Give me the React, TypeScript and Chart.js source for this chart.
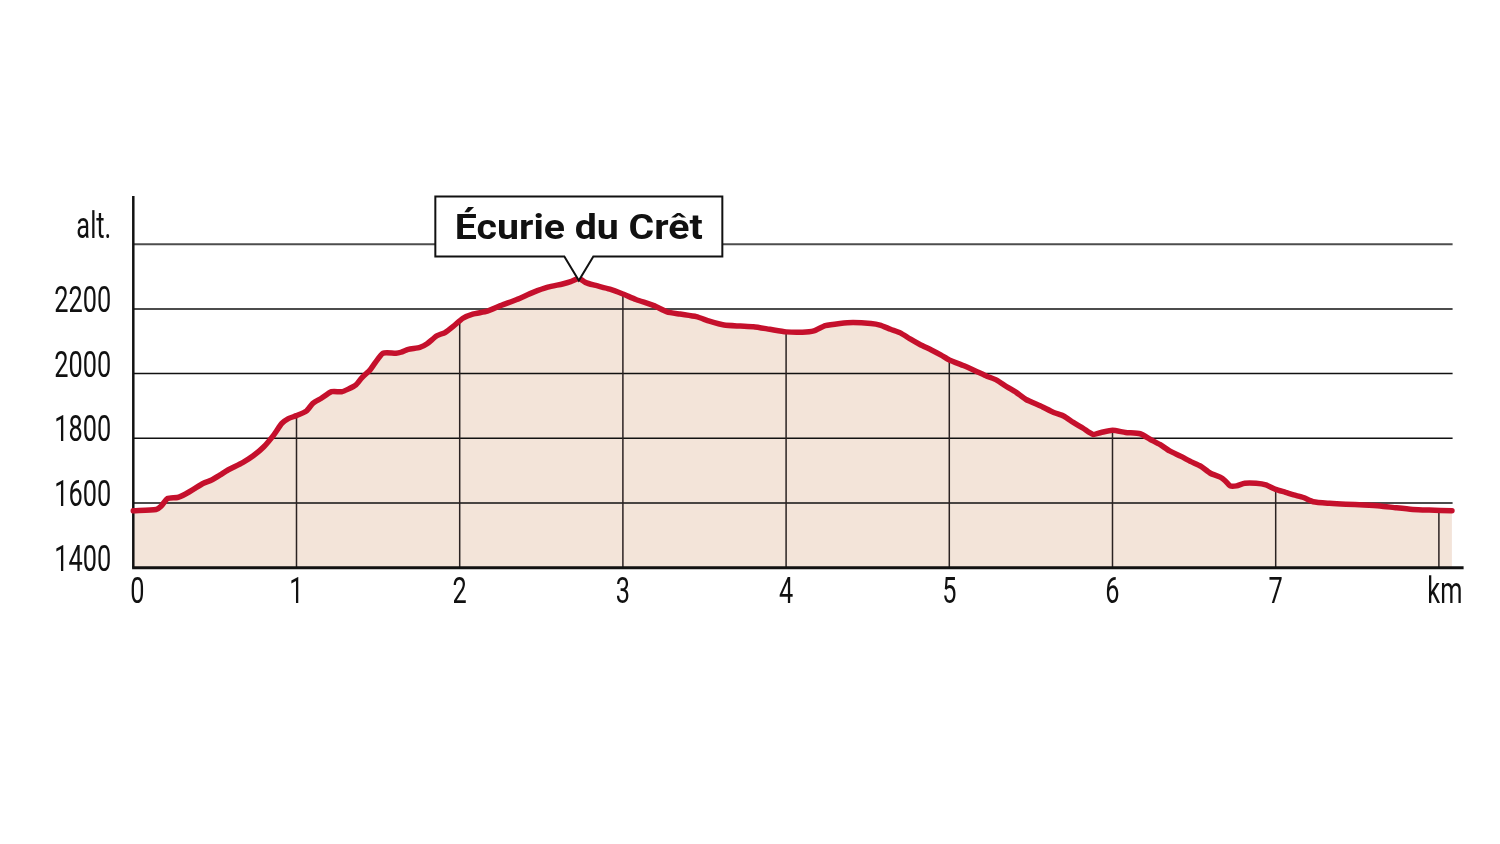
import React, { useEffect, useRef } from "react";
import { Chart, registerables } from "chart.js";

Chart.register(...registerables);

const distanceKm = [
  0, 0.14, 0.17, 0.21, 0.27, 0.32, 0.37, 0.43, 0.48, 0.53, 0.58, 0.67, 0.735, 0.8, 0.86, 0.91, 0.95, 1.0,
  1.06, 1.1, 1.15, 1.215, 1.277, 1.317, 1.364, 1.4, 1.45, 1.48, 1.53, 1.61, 1.64, 1.685, 1.756, 1.8, 1.86,
  1.91, 1.96, 2.02, 2.08, 2.17, 2.25, 2.35, 2.45, 2.54, 2.63, 2.68, 2.73, 2.77, 2.82, 2.92, 3.0, 3.08, 3.19,
  3.27, 3.35, 3.45, 3.53, 3.62, 3.72, 3.8, 3.9, 4.0, 4.1, 4.17, 4.24, 4.33, 4.41, 4.52, 4.575, 4.64, 4.7,
  4.76, 4.82, 4.89, 4.95, 5.0, 5.09, 5.17, 5.23, 5.29, 5.35, 5.41, 5.47, 5.56, 5.64, 5.7, 5.76, 5.82, 5.88,
  5.93, 6.0, 6.08, 6.17, 6.23, 6.29, 6.35, 6.42, 6.48, 6.54, 6.6, 6.66, 6.69, 6.72, 6.76, 6.81, 6.88, 6.94,
  7.0, 7.06, 7.11, 7.17, 7.23, 7.33, 7.43, 7.54, 7.64, 7.74, 7.84, 7.94, 8.08,
];
const altitudeM = [
  1576, 1580, 1590, 1614, 1617, 1628, 1643, 1661, 1671, 1686, 1702, 1725, 1746, 1774, 1810, 1846, 1861, 1870,
  1884, 1908, 1923, 1944, 1944, 1952, 1965, 1987, 2011, 2032, 2063, 2063, 2066, 2075, 2081, 2092, 2117,
  2127, 2146, 2171, 2184, 2193, 2210, 2229, 2251, 2267, 2277, 2284, 2294, 2282, 2274, 2261, 2246, 2229, 2210,
  2191, 2184, 2176, 2162, 2150, 2147, 2145, 2137, 2129, 2128, 2132, 2148, 2155, 2158, 2155, 2150, 2137, 2126,
  2107, 2090, 2073, 2057, 2042, 2024, 2006, 1992, 1980, 1960, 1942, 1920, 1900, 1880, 1869, 1849, 1831, 1812,
  1818, 1825, 1818, 1814, 1797, 1781, 1761, 1744, 1728, 1714, 1692, 1680, 1669, 1653, 1653, 1661, 1661, 1656,
  1642, 1633, 1625, 1617, 1604, 1599, 1596, 1594, 1591, 1585, 1580, 1578, 1576,
];
const yTickValues = [1400, 1600, 1800, 2000, 2200, 2400];
const yTickLabels = ["1400", "1600", "1800", "2000", "2200", "alt."];
const xTickValues = [0, 1, 2, 3, 4, 5, 6, 7, 8];
const xTickLabels = ["0", "1", "2", "3", "4", "5", "6", "7", "km"];
const summitLabel = "Écurie du Crêt";

const X_MIN = 0;
const X_MAX = 8.084;
const Y_MIN = 1400;
const Y_MAX = 2549;

const FILL_COLOR = "#f3e4d9";
const LINE_COLOR = "#c5102c";
const INK = "#111111";

function altitudeAt(km: number): number {
  for (let i = 0; i < distanceKm.length - 1; i++) {
    const a = distanceKm[i];
    const b = distanceKm[i + 1];
    if (km >= a && km <= b) {
      const t = (km - a) / (b - a);
      return altitudeM[i] + t * (altitudeM[i + 1] - altitudeM[i]);
    }
  }
  return altitudeM[altitudeM.length - 1];
}

function drawCondensed(
  ctx: CanvasRenderingContext2D,
  text: string,
  x: number,
  y: number,
  sx: number,
  align: CanvasTextAlign
) {
  ctx.save();
  ctx.translate(x, y);
  ctx.scale(sx, 1);
  ctx.textAlign = align;
  ctx.textBaseline = "alphabetic";
  ctx.fillText(text, 0, 0);
  ctx.restore();
}

const profilePlugin = {
  id: "profilePlugin",
  afterDatasetDraw(chart: any, args: any) {
    if (args.index !== 1) return;
    const { ctx, chartArea } = chart;
    const x = chart.scales.x;
    const y = chart.scales.y;
    ctx.save();
    ctx.lineCap = "butt";
    // horizontal grid lines
    yTickValues.forEach((v) => {
      if (v === Y_MIN) return;
      const py = y.getPixelForValue(v);
      ctx.beginPath();
      ctx.strokeStyle = v === 2400 ? "#4d4d4d" : INK;
      ctx.lineWidth = v === 2400 ? 2 : 1.5;
      ctx.moveTo(chartArea.left, py);
      ctx.lineTo(chartArea.right, py);
      ctx.stroke();
    });
    // vertical drop lines from baseline to profile
    xTickValues.forEach((v) => {
      if (v === 0) return;
      const px = x.getPixelForValue(v);
      const py = y.getPixelForValue(altitudeAt(v));
      ctx.beginPath();
      ctx.strokeStyle = "#2a2222";
      ctx.lineWidth = 1.5;
      ctx.moveTo(px, chartArea.bottom);
      ctx.lineTo(px, py);
      ctx.stroke();
    });
    // axes
    ctx.strokeStyle = INK;
    ctx.beginPath();
    ctx.lineWidth = 2.5;
    ctx.moveTo(chartArea.left, chartArea.top);
    ctx.lineTo(chartArea.left, chartArea.bottom);
    ctx.stroke();
    ctx.beginPath();
    ctx.lineWidth = 3;
    ctx.moveTo(chartArea.left - 1.2, chartArea.bottom);
    ctx.lineTo(chartArea.right + 11, chartArea.bottom);
    ctx.stroke();
    ctx.restore();
  },
  afterDraw(chart: any) {
    const { ctx, chartArea } = chart;
    const x = chart.scales.x;
    const y = chart.scales.y;
    ctx.save();
    ctx.fillStyle = INK;
    ctx.font = "36px Roboto";
    const sx = 57 / ctx.measureText("2200").width;

    // y tick labels
    yTickValues.forEach((v, i) => {
      const label = yTickLabels[i];
      const py = y.getPixelForValue(v);
      const isUnit = isNaN(Number(label));
      drawCondensed(ctx, label, chartArea.left - 22, py + (isUnit ? -6 : 3), sx, "right");
    });

    // x tick labels
    xTickValues.forEach((v, i) => {
      const label = xTickLabels[i];
      let px = x.getPixelForValue(v);
      if (i === 0) px += 4;
      if (isNaN(Number(label))) px += 6;
      drawCondensed(ctx, label, px, chartArea.bottom + 35.5, sx, "center");
    });

    // summit annotation
    let peak = 0;
    altitudeM.forEach((a, i) => {
      if (a > altitudeM[peak]) peak = i;
    });
    const ax = x.getPixelForValue(distanceKm[peak]);
    const ay = y.getPixelForValue(altitudeM[peak]) + 2;
    const boxW = 287;
    const boxH = 60;
    const boxBottom = ay - 24;
    const boxTop = boxBottom - boxH;
    const left = ax - boxW / 2;
    const right = ax + boxW / 2;
    ctx.beginPath();
    ctx.moveTo(left, boxTop);
    ctx.lineTo(right, boxTop);
    ctx.lineTo(right, boxBottom);
    ctx.lineTo(ax + 14.5, boxBottom);
    ctx.lineTo(ax, ay);
    ctx.lineTo(ax - 14.5, boxBottom);
    ctx.lineTo(left, boxBottom);
    ctx.closePath();
    ctx.fillStyle = "#ffffff";
    ctx.fill();
    ctx.lineWidth = 2;
    ctx.lineJoin = "miter";
    ctx.strokeStyle = INK;
    ctx.stroke();

    ctx.fillStyle = INK;
    ctx.font = "bold 35px Roboto";
    const sxa = 248 / ctx.measureText(summitLabel).width;
    drawCondensed(ctx, summitLabel, ax, boxBottom - 17.5, sxa, "center");
    ctx.restore();
  },
};

export default function App() {
  const canvasRef = useRef<HTMLCanvasElement | null>(null);

  useEffect(() => {
    const canvas = canvasRef.current;
    if (!canvas) return;
    const points = distanceKm.map((d, i) => ({ x: d, y: altitudeM[i] }));
    const chart = new Chart(canvas, {
      type: "line",
      data: {
        datasets: [
          {
            label: "Altitude",
            data: points,
            borderColor: LINE_COLOR,
            borderWidth: 5.5,
            borderCapStyle: "round",
            borderJoinStyle: "round",
            pointRadius: 0,
            fill: false,
            tension: 0.2,
            order: 0,
            clip: false,
          },
          {
            label: "Fill",
            data: points,
            borderWidth: 0,
            borderColor: "rgba(0,0,0,0)",
            backgroundColor: FILL_COLOR,
            pointRadius: 0,
            fill: "start",
            tension: 0.2,
            order: 1,
          },
        ],
      },
      options: {
        responsive: false,
        animation: false,
        devicePixelRatio: 1,
        layout: {
          padding: { left: 133.3, right: 47.4, top: 196, bottom: 276.3 },
        },
        plugins: {
          legend: { display: false },
          tooltip: { enabled: false },
          title: { display: false },
        },
        scales: {
          x: { type: "linear", min: X_MIN, max: X_MAX, display: false },
          y: { type: "linear", min: Y_MIN, max: Y_MAX, display: false },
        },
      },
      plugins: [profilePlugin],
    } as any);
    return () => chart.destroy();
  }, []);

  return (
    <div style={{ position: "absolute", left: 0, top: 0, width: 1500, height: 844, background: "#fff" }}>
      <canvas ref={canvasRef} width={1500} height={844} style={{ display: "block" }} />
    </div>
  );
}
